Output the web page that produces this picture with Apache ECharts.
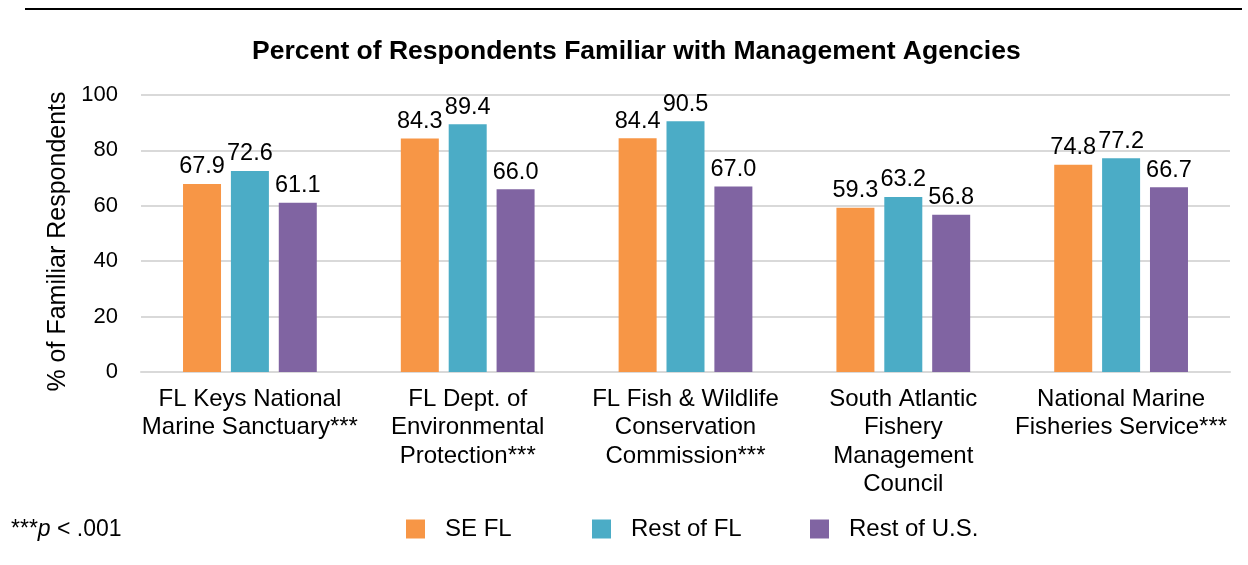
<!DOCTYPE html>
<html><head><meta charset="utf-8">
<script src="https://cdn.jsdelivr.net/npm/echarts@6/dist/echarts.min.js"></script>
<style>html,body{margin:0;padding:0;background:#fff}#c{width:1248px;height:565px}</style>
</head><body><div id="c"></div>
<script>
const categories = [
  'FL Keys National\nMarine Sanctuary***',
  'FL Dept. of\nEnvironmental\nProtection***',
  'FL Fish & Wildlife\nConservation\nCommission***',
  'South Atlantic\nFishery\nManagement\nCouncil',
  'National Marine\nFisheries Service***'
];
const seFL = [67.9, 84.3, 84.4, 59.3, 74.8];
const restFL = [72.6, 89.4, 90.5, 63.2, 77.2];
const restUS = [61.1, 66.0, 67.0, 56.8, 66.7];
const seriesNames = ['SE FL', 'Rest of FL', 'Rest of U.S.'];
const colors = ['#F79646', '#4BACC6', '#8064A2'];
const FONT = '"Liberation Sans", Arial, sans-serif';
const FS = 24;

const chart = echarts.init(document.getElementById('c'), null, {renderer: 'canvas'});
const mk = (name, data, color) => ({
  name, type: 'bar', data,
  barWidth: 38, barGap: '26%',
  itemStyle: {color},
  label: {show: true, position: 'top', distance: 5, color: '#000', fontSize: 23.5, fontFamily: FONT,
          formatter: p => p.value.toFixed(1)}
});
const legendCommon = {
  top: 512, itemWidth: 19, itemHeight: 19, icon: 'rect',
  textStyle: {fontSize: FS, fontFamily: FONT, color: '#000', padding: [0, 0, 0, 15]}
};
chart.setOption({
  animation: false,
  title: {text: 'Percent of Respondents Familiar with Management Agencies', left: 247, top: 33,
          textStyle: {fontSize: 26.5, fontWeight: 'bold', fontFamily: FONT, color: '#000'}},
  grid: {left: 141, right: 18, top: 95, bottom: 193, containLabel: false},
  legend: [
    Object.assign({left: 401, data: [seriesNames[0]]}, legendCommon),
    Object.assign({left: 587, data: [seriesNames[1]]}, legendCommon),
    Object.assign({left: 805, data: [seriesNames[2]]}, legendCommon)
  ],
  xAxis: {type: 'category', data: categories,
    axisLine: {lineStyle: {color: '#d9d9d9', width: 2}}, axisTick: {show: false},
    axisLabel: {fontSize: FS, fontFamily: FONT, color: '#000', lineHeight: 28.5, margin: 13, interval: 0}},
  yAxis: {type: 'value', min: 0, max: 100, interval: 20,
    name: '% of Familiar Respondents', nameLocation: 'middle', nameGap: 62, nameRotate: 90,
    nameTextStyle: {fontSize: 25, fontFamily: FONT, color: '#000', padding: [0, 16, 0, 0]},
    axisLine: {show: false}, axisTick: {show: false},
    axisLabel: {fontSize: 22, fontFamily: FONT, color: '#000', margin: 23},
    splitLine: {lineStyle: {color: '#d9d9d9', width: 2}}},
  series: [mk(seriesNames[0], seFL, colors[0]), mk(seriesNames[1], restFL, colors[1]), mk(seriesNames[2], restUS, colors[2])],
  graphic: [
    {type: 'line', shape: {x1: 25, y1: 9, x2: 1242, y2: 9}, style: {stroke: '#000', lineWidth: 2}},
    {type: 'text', left: 11, top: 518, style: {
      rich: {n: {fontSize: 23, fontFamily: FONT, fill: '#000'}, i: {fontSize: 23, fontFamily: FONT, fontStyle: 'italic', fill: '#000'}},
      text: '{n|***}{i|p}{n| < .001}'}}
  ]
});
</script></body></html>
